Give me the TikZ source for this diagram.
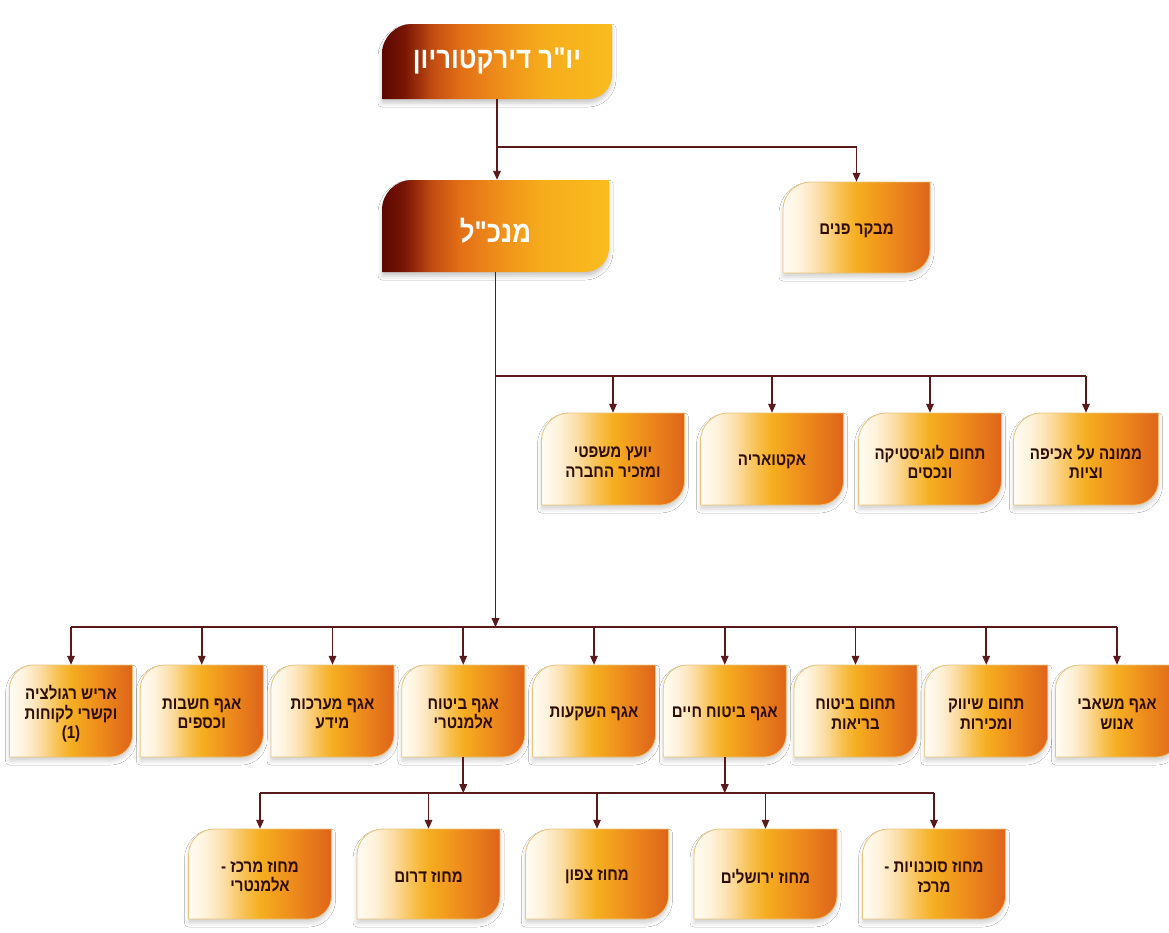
\documentclass[tikz,border=0pt]{standalone}
\usepackage{fontspec}
\usetikzlibrary{arrows.meta,shadows.blur}
\TeXXeTstate=1
\newfontfamily\hebfont[Script=Hebrew,FakeStretch=0.86]{Liberation Sans}
\newcommand\heb[1]{\beginR #1\endR}
\definecolor{lineclr}{HTML}{5A1A1C}
\definecolor{txtclr}{HTML}{2E0E04}
\definecolor{edgeclr}{HTML}{E8C47A}
\definecolor{l0}{HTML}{FFFCF4}
\definecolor{l1}{HTML}{FEF2DA}
\definecolor{l2}{HTML}{FBDFAA}
\definecolor{l3}{HTML}{F7BF4C}
\definecolor{l4}{HTML}{F5AE20}
\definecolor{l5}{HTML}{EF901C}
\definecolor{l6}{HTML}{DE641A}
\definecolor{t0}{HTML}{5A0802}
\definecolor{t1}{HTML}{7A1605}
\definecolor{t2}{HTML}{C24C12}
\definecolor{t3}{HTML}{E26E16}
\definecolor{t4}{HTML}{EE8C1A}
\definecolor{t5}{HTML}{F6AC1C}
\definecolor{t6}{HTML}{F9BC1E}
\pgfdeclarehorizontalshading{lowshade}{100bp}{color(0bp)=(l0); color(25bp)=(l0); color(31bp)=(l1); color(37bp)=(l2); color(45bp)=(l3); color(50bp)=(l4); color(60bp)=(l5); color(75bp)=(l6); color(100bp)=(l6)}
\pgfdeclarehorizontalshading{topshade}{100bp}{color(0bp)=(t0); color(25bp)=(t0); color(30bp)=(t1); color(36bp)=(t2); color(42bp)=(t3); color(50bp)=(t4); color(60bp)=(t5); color(75bp)=(t6); color(100bp)=(t6)}
\newcommand\obox[8]{%
  \shadedraw[#1] ({#4-#6/2},{#5+#7/2}) -- ({#4-#6/2},{#5-#7/2+\rA})
    .. controls ({#4-#6/2},{#5-#7/2+0.448*\rA}) and ({#4-#6/2+0.448*\rA},{#5-#7/2}) ..
    ({#4-#6/2+\rA},{#5-#7/2}) -- ({#4+#6/2},{#5-#7/2}) -- ({#4+#6/2},{#5+#7/2-\rB})
    .. controls ({#4+#6/2},{#5+#7/2-0.448*\rB}) and ({#4+#6/2-0.448*\rB},{#5+#7/2}) ..
    ({#4+#6/2-\rB},{#5+#7/2}) -- cycle;
  \node[boxnode, minimum width=#6pt, minimum height=#7pt, label={[#2]center:{#8}}] (#3) at (#4,#5) {};
}
\begin{document}
\begin{tikzpicture}[x=1pt,y=-1pt,
  boxnode/.style={draw=none, fill=none, inner sep=0pt, rectangle},
  lowbox/.style={shading=lowshade, draw=edgeclr, line width=0.8pt,
     blur shadow={shadow xshift=0pt, shadow yshift=-4pt, shadow blur radius=4pt, shadow opacity=18}},
  topbox/.style={shading=topshade, draw=none,
     blur shadow={shadow xshift=0pt, shadow yshift=-4pt, shadow blur radius=4pt, shadow opacity=22}},
  lowtxt/.style={font=\hebfont\bfseries\fontsize{17.5}{19.5}\selectfont, text=txtclr, align=center, yshift=-3pt, inner sep=0pt},
  toptxt/.style={font=\hebfont\bfseries\fontsize{30}{32}\selectfont, text=white, align=center, inner sep=0pt},
  conn/.style={draw=lineclr, line width=1.6pt},
  arr/.style={conn, -{Triangle[width=7.5pt,length=9pt]}}
]
\useasboundingbox (0,0) rectangle (1169,932);
\fill[white] (0,0) rectangle (1169,932);
\begin{scope}
\clip (0,0) rectangle (1169,932);
% top boxes
\def\rA{30}\def\rB{24}
\obox{topbox}{toptxt,yshift=1pt}{chair}{497}{61.5}{230}{75}{\heb{יו"ר דירקטוריון}}
\obox{topbox}{toptxt,yshift=-5pt}{ceo}{495.5}{226}{227}{92}{\heb{מנכ"ל}}
% audit and row 2
\def\rA{28}\def\rB{24}
\obox{lowbox}{lowtxt,yshift=0pt}{audit}{856.5}{227.5}{147}{91}{\heb{מבקר פנים}}
\obox{lowbox}{lowtxt}{rtwoa}{613}{459}{143}{92}{\heb{יועץ משפטי}\\\heb{ומזכיר החברה}}
\obox{lowbox}{lowtxt}{rtwob}{772}{459}{143}{92}{\heb{אקטואריה}}
\obox{lowbox}{lowtxt}{rtwoc}{930}{459}{143}{92}{\heb{תחום לוגיסטיקה}\\\heb{ונכסים}}
\obox{lowbox}{lowtxt}{rtwod}{1086}{459}{145}{92}{\heb{ממונה על אכיפה}\\\heb{וציות}}
% row 3
\def\rA{24}\def\rB{22}
\obox{lowbox}{lowtxt}{rthra}{71}{711}{123}{92}{\heb{אריש רגולציה}\\\heb{וקשרי לקוחות}\\\beginL(1)\endL}
\obox{lowbox}{lowtxt}{rthrb}{201.75}{711}{123}{92}{\heb{אגף חשבות}\\\heb{וכספים}}
\obox{lowbox}{lowtxt}{rthrc}{332.5}{711}{123}{92}{\heb{אגף מערכות}\\\heb{מידע}}
\obox{lowbox}{lowtxt}{rthrd}{463.25}{711}{123}{92}{\heb{אגף ביטוח}\\\heb{אלמנטרי}}
\obox{lowbox}{lowtxt}{rthre}{594}{711}{123}{92}{\heb{אגף השקעות}}
\obox{lowbox}{lowtxt}{rthrf}{724.75}{711}{123}{92}{\heb{אגף ביטוח חיים}}
\obox{lowbox}{lowtxt}{rthrg}{855.5}{711}{123}{92}{\heb{תחום ביטוח}\\\heb{בריאות}}
\obox{lowbox}{lowtxt}{rthrh}{986.25}{711}{123}{92}{\heb{תחום שיווק}\\\heb{ומכירות}}
\obox{lowbox}{lowtxt}{rthri}{1117}{711}{123}{92}{\heb{אגף משאבי}\\\heb{אנוש}}
% row 4
\def\rA{26}\def\rB{23}
\obox{lowbox}{lowtxt}{rfoura}{260}{874}{143}{90}{\heb{מחוז מרכז -}\\\heb{אלמנטרי}}
\obox{lowbox}{lowtxt}{rfourb}{428.5}{874}{143}{90}{\heb{מחוז דרום}}
\obox{lowbox}{lowtxt}{rfourc}{597}{874}{143}{90}{\heb{מחוז צפון}}
\obox{lowbox}{lowtxt}{rfourd}{765.5}{874}{143}{90}{\heb{מחוז ירושלים}}
\obox{lowbox}{lowtxt}{rfoure}{934}{874}{143}{90}{\heb{מחוז סוכנויות -}\\\heb{מרכז}}
% connectors
\path (chair.south) ++(0,48) coordinate (jone);
\draw[conn] (chair.south) -- (jone);
\draw[arr] (jone) -- (jone |- ceo.north);
\draw[arr] (jone) -| (audit.north);
\path (ceo.south) ++(0,104) coordinate (jtwo);
\path (ceo.south) ++(0,355) coordinate (jthree);
\draw[arr] (ceo.south) -- (jthree);
\draw[conn] (jtwo) -- (jtwo -| rtwod.north);
\foreach \n in {rtwoa,rtwob,rtwoc,rtwod}{\draw[arr] (jtwo -| \n.north) -- (\n.north);}
\draw[conn] (jthree -| rthra.north) -- (jthree -| rthri.north);
\foreach \n in {rthra,rthrb,rthrc,rthrd,rthre,rthrf,rthrg,rthrh,rthri}{\draw[arr] (jthree -| \n.north) -- (\n.north);}
\path (rthrd.south) ++(0,36) coordinate (jfour);
\draw[arr] (rthrd.south) -- (jfour);
\draw[arr] (rthrf.south) -- (jfour -| rthrf.south);
\draw[conn] (jfour -| rfoura.north) -- (jfour -| rfoure.north);
\foreach \n in {rfoura,rfourb,rfourc,rfourd,rfoure}{\draw[arr] (jfour -| \n.north) -- (\n.north);}
\end{scope}
\end{tikzpicture}
\end{document}
